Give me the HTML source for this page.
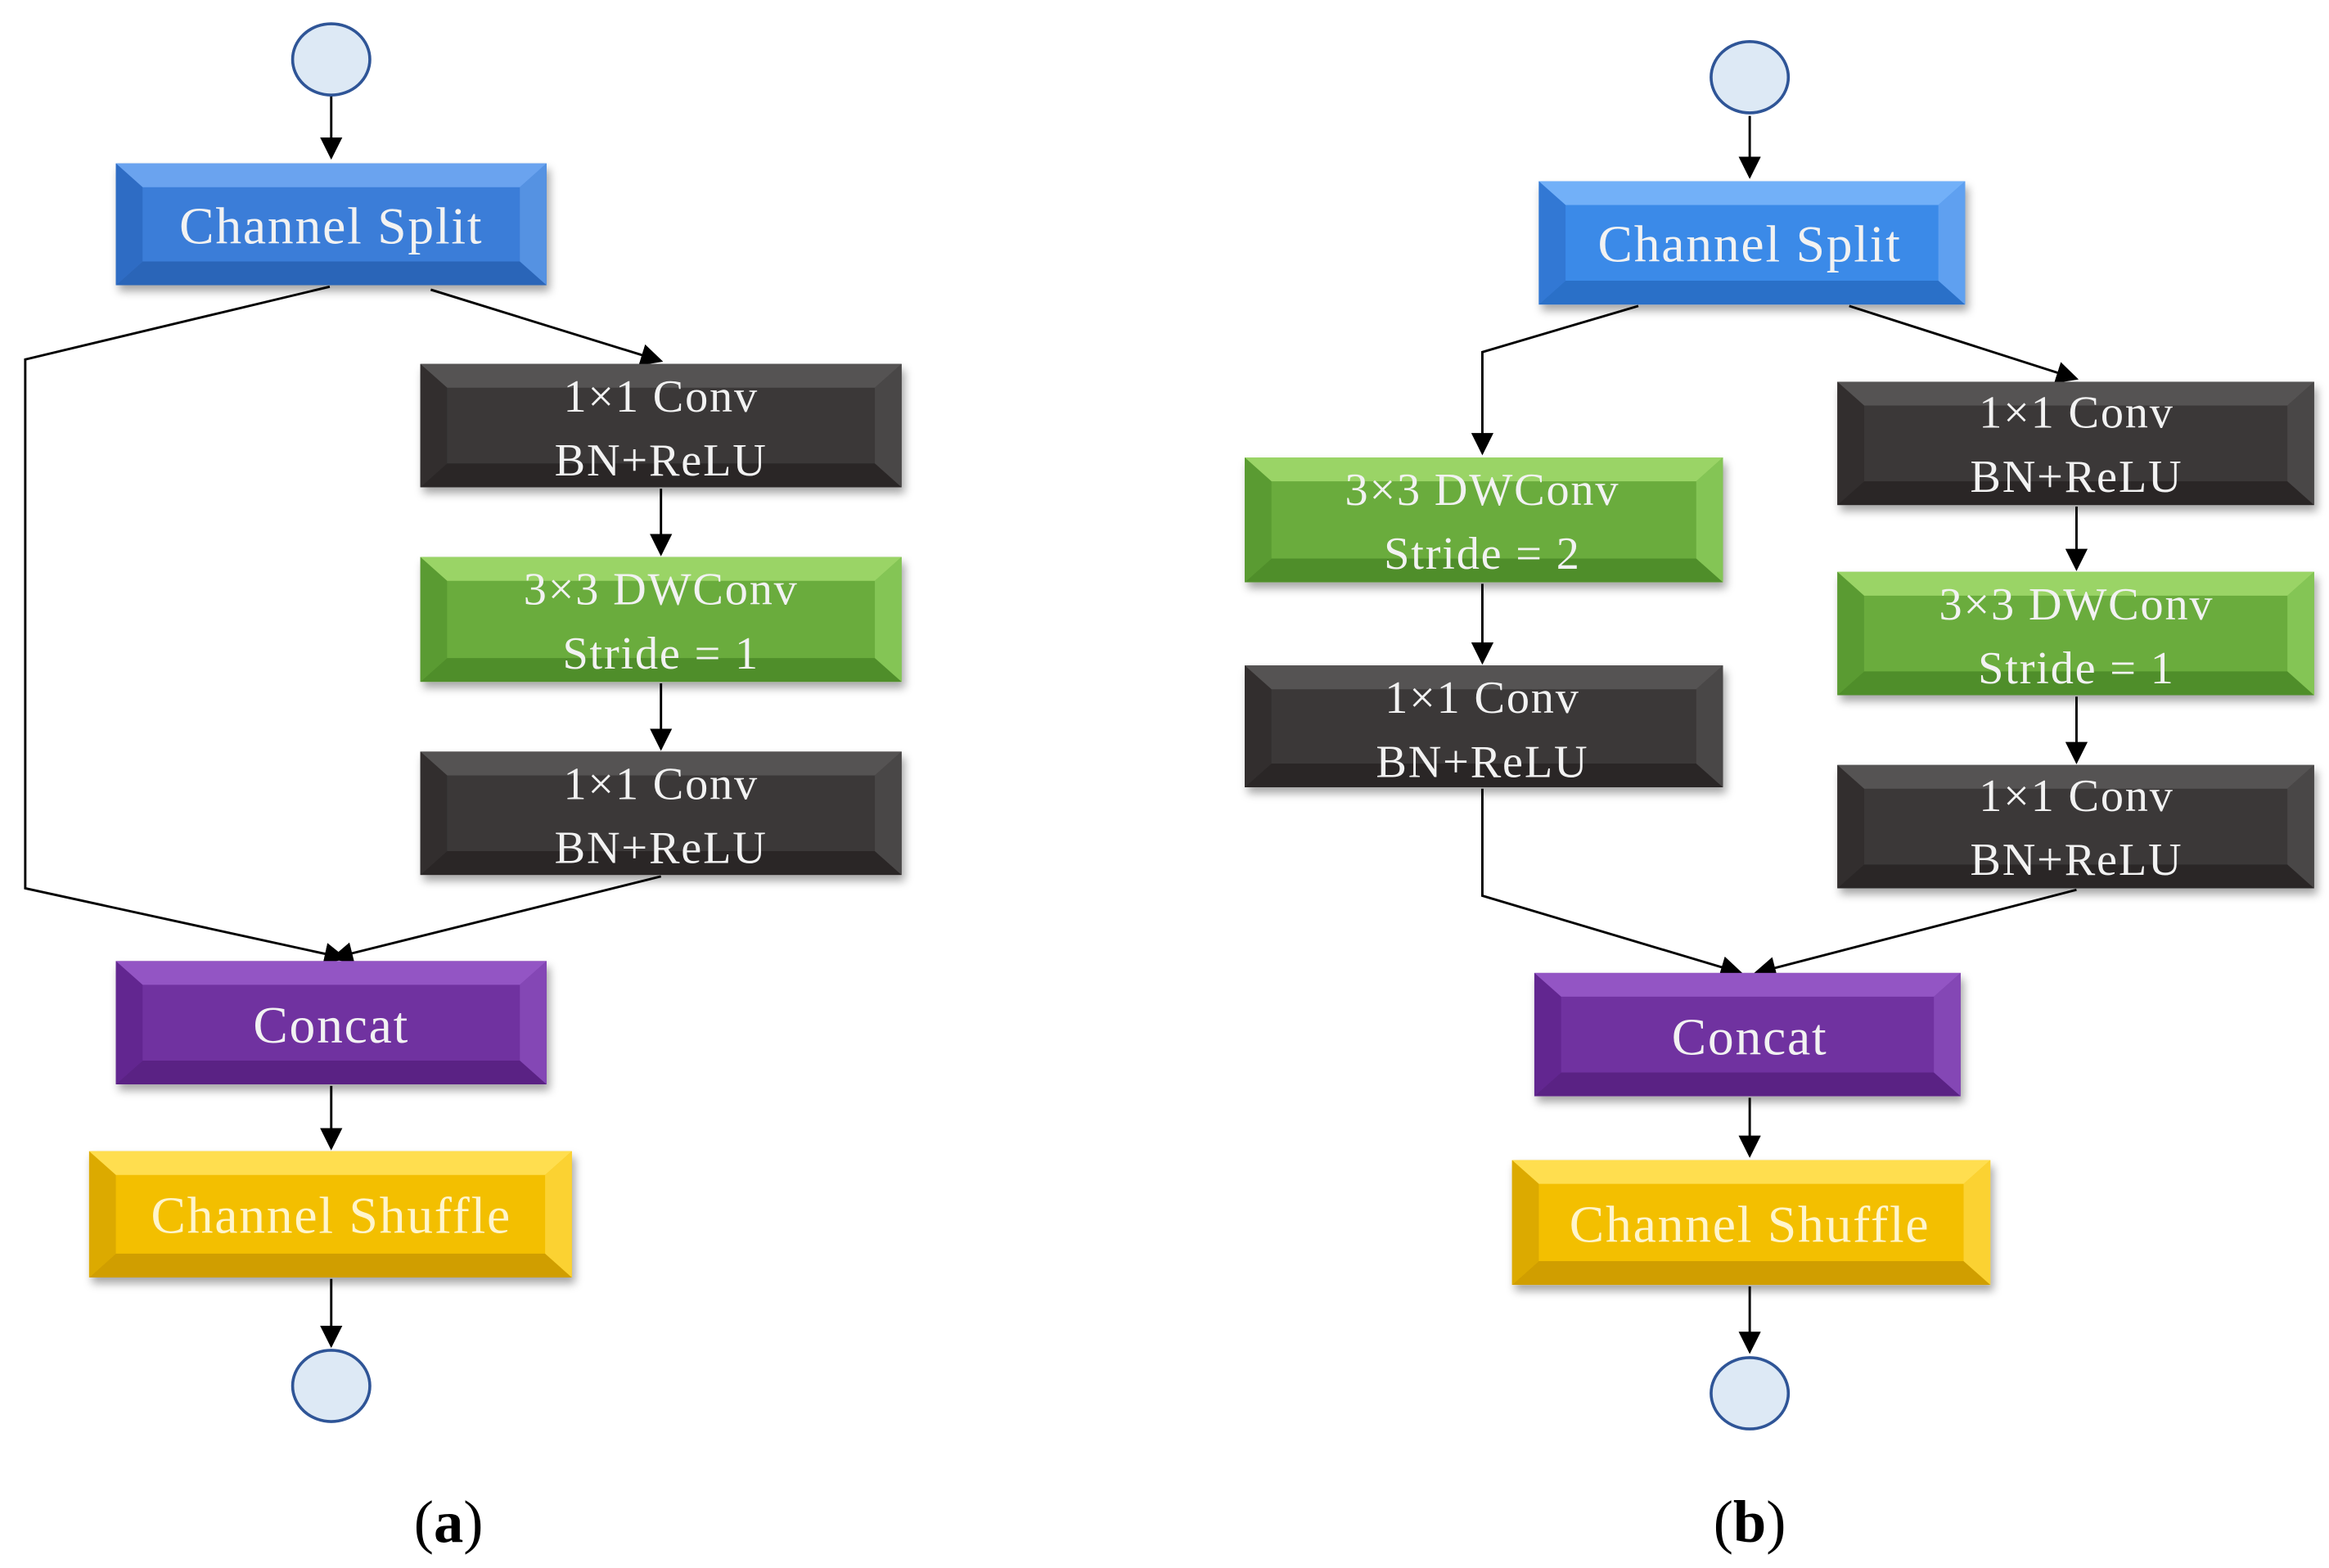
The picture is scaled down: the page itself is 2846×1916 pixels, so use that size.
<!DOCTYPE html>
<html><head><meta charset="utf-8"><style>html,body{margin:0;padding:0;background:#fff}svg{display:block}</style></head><body>
<svg width="2846" height="1916" viewBox="0 0 1568 1055.6" preserveAspectRatio="none" xmlns="http://www.w3.org/2000/svg">
<defs>
<marker id="ar" viewBox="0 0 10 10" refX="9" refY="5" markerWidth="15" markerHeight="15" markerUnits="userSpaceOnUse" orient="auto"><path d="M0,0 L10,5 L0,10 z" fill="#000"/></marker>
<filter id="sh" x="-10%" y="-10%" width="125%" height="140%"><feDropShadow dx="2" dy="4" stdDeviation="3" flood-color="#000" flood-opacity="0.35"/></filter>
</defs>
<g fill="none" stroke="#000" stroke-width="1.6">
<line x1="223" y1="64" x2="223" y2="106" marker-end="url(#ar)"/>
<polyline points="222,193 17,242 17,598 232,645" marker-end="url(#ar)"/>
<line x1="290" y1="195" x2="445" y2="243" marker-end="url(#ar)"/>
<line x1="445" y1="329" x2="445" y2="373" marker-end="url(#ar)"/>
<line x1="445" y1="460" x2="445" y2="504" marker-end="url(#ar)"/>
<line x1="445" y1="590" x2="224" y2="645" marker-end="url(#ar)"/>
<line x1="223" y1="731" x2="223" y2="773" marker-end="url(#ar)"/>
<line x1="223" y1="861" x2="223" y2="906" marker-end="url(#ar)"/>
<line x1="1178" y1="78" x2="1178" y2="119" marker-end="url(#ar)"/>
<polyline points="1103,206 998,237 998,305" marker-end="url(#ar)"/>
<line x1="1245" y1="206" x2="1398" y2="255" marker-end="url(#ar)"/>
<line x1="998" y1="393" x2="998" y2="446" marker-end="url(#ar)"/>
<polyline points="998,531 998,603 1172,655" marker-end="url(#ar)"/>
<line x1="1398" y1="341" x2="1398" y2="383" marker-end="url(#ar)"/>
<line x1="1398" y1="469" x2="1398" y2="513" marker-end="url(#ar)"/>
<line x1="1398" y1="599" x2="1182" y2="655" marker-end="url(#ar)"/>
<line x1="1178" y1="739" x2="1178" y2="778" marker-end="url(#ar)"/>
<line x1="1178" y1="866" x2="1178" y2="910" marker-end="url(#ar)"/>
</g>
<g fill="#dde9f5" stroke="#2f5597" stroke-width="2">
<ellipse cx="223" cy="40" rx="26" ry="24"/>
<ellipse cx="223" cy="933" rx="26" ry="24"/>
<ellipse cx="1178" cy="52" rx="26" ry="24"/>
<ellipse cx="1178" cy="938" rx="26" ry="24"/>
</g>
<g font-family="'Liberation Serif',serif" font-size="35" fill="#f2f2f2" text-anchor="middle" letter-spacing="1">
<g filter="url(#sh)"><rect x="78" y="110" width="290" height="82" fill="#3b7dd8"/><polygon points="78,110 368,110 350,126 96,126" fill="#6aa3ef"/><polygon points="78,192 368,192 350,176 96,176" fill="#2c65b8"/><polygon points="78,110 96,126 96,176 78,192" fill="#2f6cc4"/><polygon points="368,110 350,126 350,176 368,192" fill="#5592e2"/></g>
<text x="223" y="164">Channel Split</text>
<g filter="url(#sh)"><rect x="283" y="245" width="324" height="83" fill="#3b3838"/><polygon points="283,245 607,245 589,261 301,261" fill="#555252"/><polygon points="283,328 607,328 589,312 301,312" fill="#2a2828"/><polygon points="283,245 301,261 301,312 283,328" fill="#302e2e"/><polygon points="607,245 589,261 589,312 607,328" fill="#4a4747"/></g>
<text x="445" y="277" font-size="31">1×1 Conv</text><text x="445" y="320" font-size="31">BN+ReLU</text>
<g filter="url(#sh)"><rect x="283" y="375" width="324" height="84" fill="#6aac3e"/><polygon points="283,375 607,375 589,391 301,391" fill="#9ad466"/><polygon points="283,459 607,459 589,443 301,443" fill="#4f8e2a"/><polygon points="283,375 301,391 301,443 283,459" fill="#5a9b32"/><polygon points="607,375 589,391 589,443 607,459" fill="#84c555"/></g>
<text x="445" y="407" font-size="31">3×3 DWConv</text><text x="445" y="450" font-size="31">Stride = 1</text>
<g filter="url(#sh)"><rect x="283" y="506" width="324" height="83" fill="#3b3838"/><polygon points="283,506 607,506 589,522 301,522" fill="#555252"/><polygon points="283,589 607,589 589,573 301,573" fill="#2a2828"/><polygon points="283,506 301,522 301,573 283,589" fill="#302e2e"/><polygon points="607,506 589,522 589,573 607,589" fill="#4a4747"/></g>
<text x="445" y="538" font-size="31">1×1 Conv</text><text x="445" y="581" font-size="31">BN+ReLU</text>
<g filter="url(#sh)"><rect x="78" y="647" width="290" height="83" fill="#7030a0"/><polygon points="78,647 368,647 350,663 96,663" fill="#9355c4"/><polygon points="78,730 368,730 350,714 96,714" fill="#5a2384"/><polygon points="78,647 96,663 96,714 78,730" fill="#622890"/><polygon points="368,647 350,663 350,714 368,730" fill="#8447b5"/></g>
<text x="223" y="702">Concat</text>
<g filter="url(#sh)"><rect x="60" y="775" width="325" height="85" fill="#f3bf00"/><polygon points="60,775 385,775 367,791 78,791" fill="#ffde50"/><polygon points="60,860 385,860 367,844 78,844" fill="#d09e00"/><polygon points="60,775 78,791 78,844 60,860" fill="#dcaa00"/><polygon points="385,775 367,791 367,844 385,860" fill="#fbd230"/></g>
<text x="223" y="830" fill="#fff5cc">Channel Shuffle</text>

<g filter="url(#sh)"><rect x="1036" y="122" width="287" height="83" fill="#3b8ae8"/><polygon points="1036,122 1323,122 1305,138 1054,138" fill="#72b0f8"/><polygon points="1036,205 1323,205 1305,189 1054,189" fill="#2c6fc8"/><polygon points="1036,122 1054,138 1054,189 1036,205" fill="#3078d4"/><polygon points="1323,122 1305,138 1305,189 1323,205" fill="#5ea0f0"/></g>
<text x="1178" y="176">Channel Split</text>
<g filter="url(#sh)"><rect x="838" y="308" width="322" height="84" fill="#6aac3e"/><polygon points="838,308 1160,308 1142,324 856,324" fill="#9ad466"/><polygon points="838,392 1160,392 1142,376 856,376" fill="#4f8e2a"/><polygon points="838,308 856,324 856,376 838,392" fill="#5a9b32"/><polygon points="1160,308 1142,324 1142,376 1160,392" fill="#84c555"/></g>
<text x="998" y="340" font-size="31">3×3 DWConv</text><text x="998" y="383" font-size="31">Stride = 2</text>
<g filter="url(#sh)"><rect x="838" y="448" width="322" height="82" fill="#3b3838"/><polygon points="838,448 1160,448 1142,464 856,464" fill="#555252"/><polygon points="838,530 1160,530 1142,514 856,514" fill="#2a2828"/><polygon points="838,448 856,464 856,514 838,530" fill="#302e2e"/><polygon points="1160,448 1142,464 1142,514 1160,530" fill="#4a4747"/></g>
<text x="998" y="480" font-size="31">1×1 Conv</text><text x="998" y="523" font-size="31">BN+ReLU</text>
<g filter="url(#sh)"><rect x="1237" y="257" width="321" height="83" fill="#3b3838"/><polygon points="1237,257 1558,257 1540,273 1255,273" fill="#555252"/><polygon points="1237,340 1558,340 1540,324 1255,324" fill="#2a2828"/><polygon points="1237,257 1255,273 1255,324 1237,340" fill="#302e2e"/><polygon points="1558,257 1540,273 1540,324 1558,340" fill="#4a4747"/></g>
<text x="1398" y="288" font-size="31">1×1 Conv</text><text x="1398" y="331" font-size="31">BN+ReLU</text>
<g filter="url(#sh)"><rect x="1237" y="385" width="321" height="83" fill="#6aac3e"/><polygon points="1237,385 1558,385 1540,401 1255,401" fill="#9ad466"/><polygon points="1237,468 1558,468 1540,452 1255,452" fill="#4f8e2a"/><polygon points="1237,385 1255,401 1255,452 1237,468" fill="#5a9b32"/><polygon points="1558,385 1540,401 1540,452 1558,468" fill="#84c555"/></g>
<text x="1398" y="417" font-size="31">3×3 DWConv</text><text x="1398" y="460" font-size="31">Stride = 1</text>
<g filter="url(#sh)"><rect x="1237" y="515" width="321" height="83" fill="#3b3838"/><polygon points="1237,515 1558,515 1540,531 1255,531" fill="#555252"/><polygon points="1237,598 1558,598 1540,582 1255,582" fill="#2a2828"/><polygon points="1237,515 1255,531 1255,582 1237,598" fill="#302e2e"/><polygon points="1558,515 1540,531 1540,582 1558,598" fill="#4a4747"/></g>
<text x="1398" y="546" font-size="31">1×1 Conv</text><text x="1398" y="589" font-size="31">BN+ReLU</text>
<g filter="url(#sh)"><rect x="1033" y="655" width="287" height="83" fill="#7030a0"/><polygon points="1033,655 1320,655 1302,671 1051,671" fill="#9355c4"/><polygon points="1033,738 1320,738 1302,722 1051,722" fill="#5a2384"/><polygon points="1033,655 1051,671 1051,722 1033,738" fill="#622890"/><polygon points="1320,655 1302,671 1302,722 1320,738" fill="#8447b5"/></g>
<text x="1178" y="710">Concat</text>
<g filter="url(#sh)"><rect x="1018" y="781" width="322" height="84" fill="#f3bf00"/><polygon points="1018,781 1340,781 1322,797 1036,797" fill="#ffde50"/><polygon points="1018,865 1340,865 1322,849 1036,849" fill="#d09e00"/><polygon points="1018,781 1036,797 1036,849 1018,865" fill="#dcaa00"/><polygon points="1340,781 1322,797 1322,849 1340,865" fill="#fbd230"/></g>
<text x="1178" y="836" fill="#fff5cc">Channel Shuffle</text>
</g>
<g font-family="'Liberation Serif',serif" font-size="40" fill="#000" text-anchor="middle">
<text x="302" y="1038">(<tspan font-weight="bold">a</tspan>)</text>
<text x="1178" y="1038">(<tspan font-weight="bold">b</tspan>)</text>
</g>
</svg>
</body></html>
